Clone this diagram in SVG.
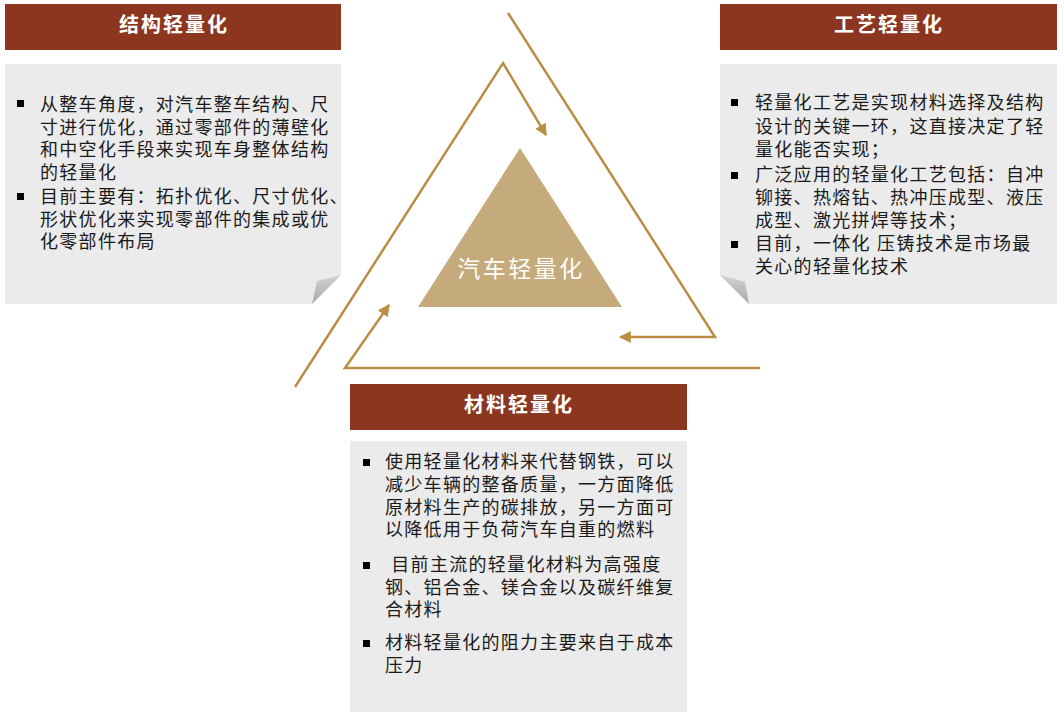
<svg xmlns="http://www.w3.org/2000/svg" width="1064" height="721" viewBox="0 0 1064 721">
<defs>
<style>
.hdr{fill:#8C351F}
.body{fill:#EBEBEB}
.fold{fill:url(#fg)}
.ht{font-family:"Liberation Sans","Noto Sans CJK SC",sans-serif;font-size:20px;font-weight:bold;fill:#FFFFFF;text-anchor:middle;letter-spacing:2px}
.bt{font-family:"Liberation Sans","Noto Sans CJK SC",sans-serif;font-size:18px;fill:#1A1A1A;letter-spacing:1.3px}
.bul{fill:#000000}
.ln{fill:none;stroke:#B98E45;stroke-width:2.5;stroke-linejoin:miter}
.ct{font-family:"Liberation Sans","Noto Sans CJK SC",sans-serif;font-size:23px;fill:#FFFFFF;text-anchor:middle;letter-spacing:2.5px}
</style>
<linearGradient id="fg" x1="0" y1="0" x2="0" y2="1">
<stop offset="0" stop-color="#D2D2D2"/>
<stop offset="1" stop-color="#A9A9A9"/>
</linearGradient>
<marker id="arr" viewBox="0 0 10 10" refX="9" refY="5" markerWidth="4.8" markerHeight="4.8" orient="auto" markerUnits="strokeWidth">
<path d="M0,0 L10,5 L0,10 Z" fill="#B98E45"/>
</marker>
</defs>

<g id="connectors">
<polyline class="ln" points="295,387 503,63 546,135" marker-end="url(#arr)"/>
<polyline class="ln" points="508,13 715,337 620,337" marker-end="url(#arr)"/>
<polyline class="ln" points="760,368 345,368 389,305" marker-end="url(#arr)"/>
</g>

<g id="center">
<polygon points="520,148 418,307 622,307" fill="#C5AA7B"/>
<text class="ct" x="521" y="277">汽车轻量化</text>
</g>

<g id="structure">
<rect class="hdr" x="5" y="4" width="336" height="46"/>
<text class="ht" x="174" y="32">结构轻量化</text>
<polygon class="body" points="5,64 341,64 341,275 312,304 5,304"/>
<polygon class="fold" points="341,275 317,281 312,304"/>
<rect class="bul" x="17" y="100" width="7" height="7"/>
<rect class="bul" x="17" y="193" width="7" height="7"/>
<text class="bt" x="40" y="111">从整车角度，对汽车整车结构、尺</text>
<text class="bt" x="40" y="134">寸进行优化，通过零部件的薄壁化</text>
<text class="bt" x="40" y="156">和中空化手段来实现车身整体结构</text>
<text class="bt" x="40" y="179">的轻量化</text>
<text class="bt" x="40" y="203">目前主要有：拓扑优化、尺寸优化、</text>
<text class="bt" x="40" y="226">形状优化来实现零部件的集成或优</text>
<text class="bt" x="40" y="248">化零部件布局</text>
</g>

<g id="process">
<rect class="hdr" x="720" y="4" width="337" height="46"/>
<text class="ht" x="889" y="32">工艺轻量化</text>
<polygon class="body" points="720,64 1057,64 1057,304 749,304 720,275"/>
<polygon class="fold" points="720,275 745,282 749,304"/>
<rect class="bul" x="731" y="99" width="7" height="7"/>
<rect class="bul" x="731" y="172" width="7" height="7"/>
<rect class="bul" x="731" y="241" width="7" height="7"/>
<text class="bt" x="755" y="109">轻量化工艺是实现材料选择及结构</text>
<text class="bt" x="755" y="133">设计的关键一环，这直接决定了轻</text>
<text class="bt" x="755" y="156">量化能否实现；</text>
<text class="bt" x="755" y="181">广泛应用的轻量化工艺包括：自冲</text>
<text class="bt" x="755" y="204">铆接、热熔钻、热冲压成型、液压</text>
<text class="bt" x="755" y="227">成型、激光拼焊等技术；</text>
<text class="bt" x="755" y="250">目前，一体化 压铸技术是市场最</text>
<text class="bt" x="755" y="273">关心的轻量化技术</text>
</g>

<g id="material">
<rect class="hdr" x="350" y="384" width="337" height="46"/>
<text class="ht" x="519" y="412">材料轻量化</text>
<rect class="body" x="350" y="441" width="337" height="271"/>
<rect class="bul" x="363" y="459" width="7" height="7"/>
<rect class="bul" x="363" y="562" width="7" height="7"/>
<rect class="bul" x="363" y="640" width="7" height="7"/>
<text class="bt" x="385" y="468">使用轻量化材料来代替钢铁，可以</text>
<text class="bt" x="385" y="491">减少车辆的整备质量，一方面降低</text>
<text class="bt" x="385" y="514">原材料生产的碳排放，另一方面可</text>
<text class="bt" x="385" y="536">以降低用于负荷汽车自重的燃料</text>
<text class="bt" x="385" y="571" xml:space="preserve"> 目前主流的轻量化材料为高强度</text>
<text class="bt" x="385" y="594">钢、铝合金、镁合金以及碳纤维复</text>
<text class="bt" x="385" y="616">合材料</text>
<text class="bt" x="385" y="649">材料轻量化的阻力主要来自于成本</text>
<text class="bt" x="385" y="672">压力</text>
</g>
</svg>
